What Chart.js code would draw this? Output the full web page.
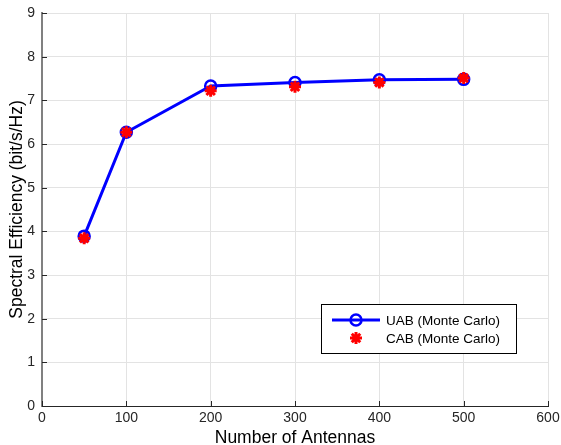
<!DOCTYPE html>
<html>
<head>
<meta charset="utf-8">
<script src="https://cdn.jsdelivr.net/npm/chart.js@4.4.0/dist/chart.umd.min.js"></script>
<style>
  html, body { margin: 0; padding: 0; background: #fff; }
  #wrap { width: 561px; height: 445px; }
</style>
</head>
<body>
<div id="wrap"><canvas id="seChart" width="561" height="445"></canvas></div>
<script>
// antenna counts and spectral efficiency (bit/s/Hz) per scheme
const antennas = [50, 100, 200, 300, 400, 500];
const uabValues = [3.89, 6.27, 7.33, 7.41, 7.47, 7.48];
const cabValues = [3.84, 6.27, 7.22, 7.31, 7.41, 7.51];
const xTicks = [0, 100, 200, 300, 400, 500, 600];
const yTicks = [0, 1, 2, 3, 4, 5, 6, 7, 8, 9];

const FONT = 'Liberation Sans, Arial, sans-serif';

function toPoints(ys) {
    return antennas.map((x, i) => ({ x: x, y: ys[i] }));
}

// short tick marks pointing into the plot, matlab style
const innerTicks = {
    id: 'innerTicks',
    afterDraw(chart) {
        const ctx = chart.ctx;
        const area = chart.chartArea;
        const xs = chart.scales.x, ys = chart.scales.y;
        ctx.save();
        ctx.strokeStyle = '#262626';
        ctx.lineWidth = 1;
        xTicks.forEach((v) => {
            const px = Math.round(xs.getPixelForValue(v)) + 0.5;
            ctx.beginPath();
            ctx.moveTo(px, area.bottom);
            ctx.lineTo(px, area.bottom - 5);
            ctx.stroke();
        });
        yTicks.forEach((v) => {
            const py = Math.round(ys.getPixelForValue(v)) + 0.5;
            ctx.beginPath();
            ctx.moveTo(area.left, py);
            ctx.lineTo(area.left + 5, py);
            ctx.stroke();
        });
        ctx.restore();
    }
};

// boxed legend in the lower right of the plot
const boxLegend = {
    id: 'boxLegend',
    afterDraw(chart) {
        const ctx = chart.ctx;
        const area = chart.chartArea;
        const w = 195, h = 49;
        const x0 = area.right - 32 - w, y0 = area.bottom - 53 - h;
        ctx.save();
        ctx.fillStyle = '#ffffff';
        ctx.fillRect(x0, y0, w, h);
        ctx.strokeStyle = '#000000';
        ctx.lineWidth = 1;
        ctx.strokeRect(Math.round(x0) + 0.5, Math.round(y0) + 0.5, w, h);

        ctx.font = '13.5px ' + FONT;
        ctx.fillStyle = '#000000';
        ctx.textBaseline = 'middle';
        chart.data.datasets.forEach((ds, i) => {
            const rowY = y0 + 16 + i * 18;
            const midX = x0 + 35;
            if (ds.showLine !== false) {
                ctx.strokeStyle = ds.borderColor;
                ctx.lineWidth = ds.borderWidth;
                ctx.beginPath();
                ctx.moveTo(x0 + 11, rowY);
                ctx.lineTo(x0 + 59, rowY);
                ctx.stroke();
            }
            ctx.strokeStyle = ds.pointBorderColor;
            ctx.fillStyle = ds.pointBackgroundColor;
            ctx.lineWidth = ds.pointBorderWidth;
            Chart.helpers.drawPoint(ctx, {
                pointStyle: ds.pointStyle,
                radius: ds.pointRadius,
                rotation: 0,
                borderWidth: ds.pointBorderWidth
            }, midX, rowY);
            ctx.fillStyle = '#000000';
            ctx.fillText(ds.label, x0 + 65, rowY + 1);
        });
        ctx.restore();
    }
};

new Chart(document.getElementById('seChart'), {
    type: 'line',
    data: {
        datasets: [
            {
                label: 'UAB (Monte Carlo)',
                data: toPoints(uabValues),
                borderColor: '#0000ff',
                borderWidth: 3,
                pointStyle: 'circle',
                pointRadius: 5.5,
                pointBorderWidth: 2.5,
                pointBorderColor: '#0000ff',
                pointBackgroundColor: 'rgba(0,0,0,0)',
                order: 1
            },
            {
                label: 'CAB (Monte Carlo)',
                data: toPoints(cabValues),
                showLine: false,
                borderColor: '#ff0000',
                pointStyle: 'star',
                pointRadius: 6,
                pointBorderWidth: 3,
                pointBorderColor: '#ff0000',
                pointBackgroundColor: '#ff0000',
                order: 0
            }
        ]
    },
    options: {
        responsive: false,
        animation: false,
        layout: { padding: { top: 13, right: 13, left: 0, bottom: 0 } },
        plugins: {
            legend: { display: false },
            tooltip: { enabled: false }
        },
        scales: {
            x: {
                type: 'linear',
                min: 0,
                max: 600,
                afterBuildTicks: (scale) => { scale.ticks = xTicks.map((v) => ({ value: v })); },
                afterFit: (scale) => {
                    scale.height = 39;
                    scale.paddingLeft = 0;
                    scale.paddingRight = 0;
                },
                grid: { color: '#e3e3e3', drawTicks: false },
                border: { color: '#262626', width: 1 },
                ticks: { padding: 4, color: '#262626', font: { family: FONT, size: 14 } },
                title: {
                    display: true,
                    text: 'Number of Antennas',
                    color: '#000000',
                    padding: { top: 0, bottom: -4 },
                    font: { family: FONT, size: 17.5 }
                }
            },
            y: {
                min: 0,
                max: 9,
                afterBuildTicks: (scale) => { scale.ticks = yTicks.map((v) => ({ value: v })); },
                afterFit: (scale) => {
                    scale.width = 42;
                    scale.paddingTop = 0;
                    scale.paddingBottom = 0;
                },
                grid: { color: '#e3e3e3', drawTicks: false },
                border: { color: '#808080', width: 2 },
                ticks: { padding: 7, color: '#262626', font: { family: FONT, size: 14 } },
                title: {
                    display: true,
                    text: 'Spectral Efficiency (bit/s/Hz)',
                    color: '#000000',
                    padding: { top: 7, bottom: 0 },
                    font: { family: FONT, size: 17.5 }
                }
            }
        }
    },
    plugins: [innerTicks, boxLegend]
});
</script>
</body>
</html>
